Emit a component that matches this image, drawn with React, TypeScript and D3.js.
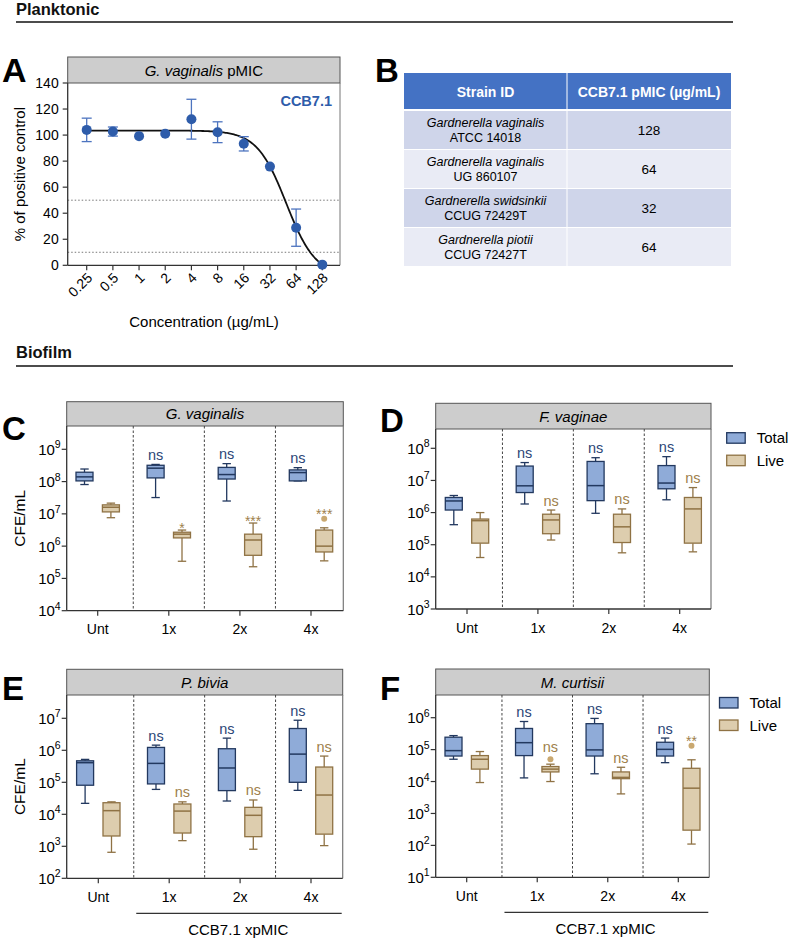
import React from 'react';
import * as d3 from 'd3';

const FONT = "'Liberation Sans', Arial, Helvetica, sans-serif";

// ---------- Panel A data ----------
const concLabels = ['0.25', '0.5', '1', '2', '4', '8', '16', '32', '64', '128'];
const concValues = [0.25, 0.5, 1, 2, 4, 8, 16, 32, 64, 128];
const pctMean = [104, 102.7, 99.2, 101, 112.2, 102.2, 93.3, 75.8, 28.9, 0.5];
const pctSD = [9, 3.5, 1, 1, 15.3, 8, 5.5, 1, 14.3, 0];
const yTicksA = [0, 20, 40, 60, 80, 100, 120, 140];
const refLinesA = [50, 10];
// fitted 4-parameter logistic curve parameters
const fitTop = 103.5;
const fitBottom = -8;
const fitIC50 = 49.2;
const fitHill = 2.59;

// ---------- Panel B data ----------
const tableHeaders = ['Strain ID', 'CCB7.1 pMIC (µg/mL)'];
const strainSpecies = ['Gardnerella vaginalis', 'Gardnerella vaginalis', 'Gardnerella swidsinkii', 'Gardnerella piotii'];
const strainIds = ['ATCC 14018', 'UG 860107', 'CCUG 72429T', 'CCUG 72427T'];
const strainPMIC = ['128', '64', '32', '64'];

// ---------- Biofilm data: [whiskerLow, Q1, median, Q3, whiskerHigh] ----------
const groups = ['Unt', '1x', '2x', '4x'];

const cTotal = [
  [8.1e7, 1.05e8, 1.4e8, 1.95e8, 2.45e8],
  [3.2e7, 1.3e8, 2.6e8, 3.2e8, 3.4e8],
  [2.5e7, 1.2e8, 1.65e8, 2.75e8, 3.6e8],
  [1.05e8, 1.05e8, 1.9e8, 2.3e8, 2.7e8],
];
const cLive = [
  [7.6e6, 1.15e7, 1.6e7, 1.9e7, 2.15e7],
  [3.4e5, 1.8e6, 2.35e6, 2.7e6, 3.15e6],
  [2.3e5, 5.2e5, 1.55e6, 2.35e6, 5.2e6],
  [3.5e5, 6.6e5, 1.0e6, 3.15e6, 3.7e6],
];
const cLiveOutliers = [null, null, null, 7.1e6];
const cTotalSig = ['', 'ns', 'ns', 'ns'];
const cLiveSig = ['', '*', '***', '***'];
const cTicks = [1e4, 1e5, 1e6, 1e7, 1e8, 1e9];

const dTotal = [
  [4.2e5, 1.2e6, 2.3e6, 2.95e6, 3.4e6],
  [1.85e6, 4.2e6, 6.8e6, 2.8e7, 3.6e7],
  [9.5e5, 2.35e6, 6.9e6, 3.9e7, 5.1e7],
  [2.5e6, 5.5e6, 8.3e6, 2.9e7, 5.5e7],
];
const dLive = [
  [4.0e4, 1.12e5, 5.6e5, 6.3e5, 1.0e6],
  [1.4e5, 2.2e5, 5.9e5, 8.9e5, 1.2e6],
  [5.6e4, 1.17e5, 3.6e5, 8.9e5, 1.3e6],
  [6.0e4, 1.12e5, 1.3e6, 2.95e6, 6.0e6],
];
const dLiveOutliers = [null, null, null, null];
const dTotalSig = ['', 'ns', 'ns', 'ns'];
const dLiveSig = ['', 'ns', 'ns', 'ns'];
const dTicks = [1e3, 1e4, 1e5, 1e6, 1e7, 1e8];

const eTotal = [
  [2.2e4, 8.1e4, 4.1e5, 4.7e5, 5.2e5],
  [6.0e4, 8.9e4, 3.9e5, 1.23e6, 1.45e6],
  [2.6e4, 5.5e4, 2.8e5, 1.12e6, 2.4e6],
  [5.6e4, 1.0e5, 7.6e5, 4.8e6, 8.7e6],
];
const eLive = [
  [650, 2.1e3, 1.3e4, 2.3e4, 2.45e4],
  [1.5e3, 2.6e3, 1.26e4, 2.1e4, 2.45e4],
  [810, 2.0e3, 9.3e3, 1.65e4, 2.8e4],
  [1.05e3, 2.4e3, 4.0e4, 3.0e5, 6.6e5],
];
const eLiveOutliers = [null, null, null, null];
const eTotalSig = ['', 'ns', 'ns', 'ns'];
const eLiveSig = ['', 'ns', 'ns', 'ns'];
const eTicks = [1e2, 1e3, 1e4, 1e5, 1e6, 1e7];

const fTotal = [
  [5.0e4, 6.3e4, 9.3e4, 2.45e5, 2.75e5],
  [1.3e4, 6.5e4, 1.65e5, 4.6e5, 7.6e5],
  [1.75e4, 6.3e4, 9.8e4, 6.5e5, 9.5e5],
  [3.9e4, 6.3e4, 1.02e5, 1.7e5, 2.3e5],
];
const fLive = [
  [9.3e3, 2.45e4, 5.0e4, 6.5e4, 8.7e4],
  [1.0e4, 2.0e4, 2.45e4, 2.95e4, 3.5e4],
  [4.1e3, 1.23e4, 1.35e4, 2.0e4, 2.8e4],
  [110, 300, 6.2e3, 2.6e4, 4.8e4],
];
const fLiveOutliers = [null, 5.0e4, null, 1.32e5];
const fTotalSig = ['', 'ns', 'ns', 'ns'];
const fLiveSig = ['', 'ns', 'ns', '**'];
const fTicks = [1e1, 1e2, 1e3, 1e4, 1e5, 1e6];

const legendLabels = ['Total', 'Live'];
const bracketLabel = 'CCB7.1 xpMIC';

// ---------- styles ----------
const TOTAL_FILL = '#8fabd8';
const TOTAL_STROKE = '#22385f';
const LIVE_FILL = '#ddcdae';
const LIVE_STROKE = '#8f7244';
const TOTAL_TXT = '#2c4677';
const LIVE_TXT = '#9e7f4c';
const HEADER_FILL = '#cdcdcd';

function sup(t: number) {
  return String(Math.round(Math.log10(t)));
}

function PanelA() {
  const left = 67.7, right = 340, headerTop = 57, plotTop = 83, axisY = 265.3;
  const x = d3.scaleLog().base(2).domain([0.25, 128]).range([86.7, 322.3]);
  const y = d3.scaleLinear().domain([0, 140]).range([axisY, plotTop]);
  const curveX = d3.range(0, 201).map((i) => 0.25 * Math.pow(512, i / 200));
  const fit = (c: number) => fitBottom + (fitTop - fitBottom) / (1 + Math.pow(c / fitIC50, fitHill));
  const line = d3.line<number>().x((c) => x(c)).y((c) => y(Math.max(0, fit(c)))).curve(d3.curveLinear);
  return (
    <g>
      <text x={2} y={82} fontSize={34} fontWeight="bold" fontFamily={FONT}>A</text>
      <rect x={left} y={headerTop} width={right - left} height={plotTop - headerTop} fill={HEADER_FILL} stroke="#555" strokeWidth={1} />
      <text x={(left + right) / 2} y={75.5} textAnchor="middle" fontSize={15} fontFamily={FONT}>
        <tspan fontStyle="italic">G. vaginalis</tspan><tspan> pMIC</tspan>
      </text>
      <line x1={right} x2={right} y1={plotTop} y2={axisY} stroke="#777" strokeWidth={1} />
      {refLinesA.map((v) => (
        <line key={v} x1={left} x2={right} y1={y(v)} y2={y(v)} stroke="#555" strokeWidth={0.8} strokeDasharray="1.5,2" />
      ))}
      <line x1={left} x2={left} y1={plotTop} y2={axisY} stroke="#333" strokeWidth={1.3} />
      <line x1={left} x2={right} y1={axisY} y2={axisY} stroke="#333" strokeWidth={1.3} />
      {yTicksA.map((t) => (
        <g key={t}>
          <line x1={left - 5} x2={left} y1={y(t)} y2={y(t)} stroke="#333" strokeWidth={1.2} />
          <text x={left - 9} y={y(t) + 5} textAnchor="end" fontSize={14} fontFamily={FONT}>{t}</text>
        </g>
      ))}
      {concValues.map((c, i) => (
        <g key={i}>
          <line x1={x(c)} x2={x(c)} y1={axisY} y2={axisY + 5} stroke="#333" strokeWidth={1.2} />
          <text transform={`translate(${x(c) + 3},${axisY + 10}) rotate(-45)`} textAnchor="end" dy="0.35em" fontSize={14} fontFamily={FONT}>{concLabels[i]}</text>
        </g>
      ))}
      <text transform={`translate(25,${(plotTop + axisY) / 2}) rotate(-90)`} textAnchor="middle" fontSize={15} fontFamily={FONT}>% of positive control</text>
      <text x={204} y={327} textAnchor="middle" fontSize={15} fontFamily={FONT}>Concentration (µg/mL)</text>
      <path d={line(curveX) || ''} fill="none" stroke="#111" strokeWidth={1.8} />
      {concValues.map((c, i) => (
        <g key={'e' + i}>
          {pctSD[i] > 1.5 && (
            <g stroke="#4d74bf" strokeWidth={1.3}>
              <line x1={x(c)} x2={x(c)} y1={y(pctMean[i] + pctSD[i])} y2={y(pctMean[i] - pctSD[i])} />
              <line x1={x(c) - 5} x2={x(c) + 5} y1={y(pctMean[i] + pctSD[i])} y2={y(pctMean[i] + pctSD[i])} />
              <line x1={x(c) - 5} x2={x(c) + 5} y1={y(pctMean[i] - pctSD[i])} y2={y(pctMean[i] - pctSD[i])} />
            </g>
          )}
          <circle cx={x(c)} cy={y(pctMean[i])} r={5} fill="#2e5caa" />
        </g>
      ))}
      <text x={332} y={106} textAnchor="end" fontSize={14.5} fontWeight="bold" fill="#2e5caa" fontFamily={FONT}>CCB7.1</text>
    </g>
  );
}

function PanelB() {
  const x0 = 404, x1 = 567, x2 = 731;
  const headTop = 73, headBot = 109;
  const rowTops = [111, 150, 189, 228];
  const rowH = 38;
  const rowFills = ['#cfd5ea', '#e9ebf5', '#cfd5ea', '#e9ebf5'];
  return (
    <g fontFamily={FONT}>
      <text x={375} y={82} fontSize={33} fontWeight="bold">B</text>
      <rect x={x0} y={headTop} width={x2 - x0} height={headBot - headTop} fill="#4472c4" />
      <line x1={x1} x2={x1} y1={headTop} y2={headBot} stroke="#fff" strokeWidth={1} />
      <text x={(x0 + x1) / 2} y={96.5} textAnchor="middle" fill="#fff" fontWeight="bold" fontSize={14}>{tableHeaders[0]}</text>
      <text x={(x1 + x2) / 2} y={96.5} textAnchor="middle" fill="#fff" fontWeight="bold" fontSize={14}>{tableHeaders[1]}</text>
      {rowTops.map((t, i) => (
        <g key={i}>
          <rect x={x0} y={t} width={x2 - x0} height={rowH} fill={rowFills[i]} />
          <line x1={x1} x2={x1} y1={t} y2={t + rowH} stroke="#fff" strokeWidth={1} />
          <text x={(x0 + x1) / 2} y={t + 16} textAnchor="middle" fontSize={12.5} fontStyle="italic">{strainSpecies[i]}</text>
          <text x={(x0 + x1) / 2} y={t + 31} textAnchor="middle" fontSize={12.5}>{strainIds[i]}</text>
          <text x={(x1 + x2) / 2} y={t + 24} textAnchor="middle" fontSize={13.5}>{strainPMIC[i]}</text>
        </g>
      ))}
    </g>
  );
}

type Layout = {
  letter: string; letterX: number; letterY: number;
  title: string;
  left: number; right: number; headerTop: number; plotTop: number; axisY: number; topTickY: number;
  c0: number; c3: number;
  yLabel: boolean; bracket: boolean;
  legend: null | { x: number; y: number };
};

function BoxPanel({ L, total, live, liveOut, tSig, lSig, ticks }: {
  L: Layout; total: number[][]; live: number[][]; liveOut: (number | null)[]; tSig: string[]; lSig: string[]; ticks: number[];
}) {
  const y = d3.scaleLog().domain([ticks[0], ticks[ticks.length - 1]]).range([L.axisY, L.topTickY]);
  const x = d3.scalePoint().domain(groups).range([L.c0, L.c3]);
  const step = x.step();
  const off = 13.2;
  const bw = 17;
  const cap = 4.2;
  const drawBox = (s: number[], cx: number, fill: string, stroke: string, key: string) => {
    const [lo, q1, med, q3, hi] = s;
    return (
      <g key={key} stroke={stroke} strokeWidth={1.3}>
        <line x1={cx} x2={cx} y1={y(hi)} y2={y(q3)} />
        <line x1={cx} x2={cx} y1={y(q1)} y2={y(lo)} />
        <line x1={cx - cap} x2={cx + cap} y1={y(hi)} y2={y(hi)} />
        <line x1={cx - cap} x2={cx + cap} y1={y(lo)} y2={y(lo)} />
        <rect x={cx - bw / 2} y={y(q3)} width={bw} height={Math.max(1, y(q1) - y(q3))} fill={fill} />
        <line x1={cx - bw / 2} x2={cx + bw / 2} y1={y(med)} y2={y(med)} strokeWidth={1.5} />
      </g>
    );
  };
  const sigText = (txt: string, cx: number, top: number, color: string, key: string) => {
    if (!txt) return null;
    const isStar = txt.includes('*');
    return (
      <text key={key} x={cx} y={isStar ? top + 3 : top - 4.5} textAnchor="middle" fontSize={isStar ? 14 : 14.5} fill={color} fontFamily={FONT}>{txt}</text>
    );
  };
  const midSeps = groups.slice(1).map((g) => (x(g) as number) - step / 2);
  return (
    <g fontFamily={FONT}>
      <text x={L.letterX} y={L.letterY} fontSize={33} fontWeight="bold">{L.letter}</text>
      <rect x={L.left} y={L.headerTop} width={L.right - L.left} height={L.plotTop - L.headerTop} fill={HEADER_FILL} stroke="#555" strokeWidth={1} />
      <text x={(L.left + L.right) / 2} y={(L.headerTop + L.plotTop) / 2 + 5.5} textAnchor="middle" fontSize={15} fontStyle="italic">{L.title}</text>
      <line x1={L.right} x2={L.right} y1={L.plotTop} y2={L.axisY} stroke="#777" strokeWidth={1.2} />
      {midSeps.map((sx, i) => (
        <line key={i} x1={sx} x2={sx} y1={L.plotTop} y2={L.axisY} stroke="#444" strokeWidth={1} strokeDasharray="2.5,2" />
      ))}
      <line x1={L.left} x2={L.left} y1={L.plotTop} y2={L.axisY} stroke="#333" strokeWidth={1.3} />
      <line x1={L.left} x2={L.right} y1={L.axisY} y2={L.axisY} stroke="#333" strokeWidth={1.3} />
      {ticks.map((t) => (
        <g key={t}>
          <line x1={L.left - 5} x2={L.left} y1={y(t)} y2={y(t)} stroke="#333" strokeWidth={1.2} />
          <text x={L.left - 6} y={y(t) + 5.5} textAnchor="end" fontSize={15}>
            <tspan>10</tspan><tspan dy={-6.5} fontSize={10.5}>{sup(t)}</tspan>
          </text>
        </g>
      ))}
      {groups.map((g) => (
        <g key={g}>
          <line x1={x(g) as number} x2={x(g) as number} y1={L.axisY} y2={L.axisY + 5} stroke="#333" strokeWidth={1.2} />
          <text x={x(g) as number} y={L.axisY + 23.5} textAnchor="middle" fontSize={14}>{g}</text>
        </g>
      ))}
      {L.yLabel && (
        <text transform={`translate(25,${(L.plotTop + L.axisY) / 2}) rotate(-90)`} textAnchor="middle" fontSize={15.5}>CFE/mL</text>
      )}
      {groups.map((g, i) => {
        const cx = x(g) as number;
        const tTop = y(total[i][4]);
        const lTopVal = liveOut[i] != null ? Math.max(liveOut[i] as number, live[i][4]) : live[i][4];
        const lTop = y(lTopVal) - (liveOut[i] != null ? 3 : 0);
        return (
          <g key={'b' + g}>
            {drawBox(total[i], cx - off, TOTAL_FILL, TOTAL_STROKE, 't' + g)}
            {drawBox(live[i], cx + off, LIVE_FILL, LIVE_STROKE, 'l' + g)}
            {liveOut[i] != null && (
              <circle cx={cx + off} cy={y(liveOut[i] as number)} r={3} fill="#c9a870" />
            )}
            {sigText(tSig[i], cx - off, tTop, TOTAL_TXT, 'st' + g)}
            {sigText(lSig[i], cx + off, lTop, LIVE_TXT, 'sl' + g)}
          </g>
        );
      })}
      {L.bracket && (
        <g>
          <line x1={midSeps[0] + 2.5} x2={L.right - 1} y1={L.axisY + 35} y2={L.axisY + 35} stroke="#333" strokeWidth={1.2} />
          <text x={(midSeps[0] + L.right) / 2} y={L.axisY + 57} textAnchor="middle" fontSize={15}>{bracketLabel}</text>
        </g>
      )}
      {L.legend && (
        <g>
          {legendLabels.map((lab, i) => (
            <g key={lab}>
              <rect x={L.legend!.x} y={L.legend!.y + i * 22.5} width={18.5} height={10.5}
                fill={i === 0 ? TOTAL_FILL : LIVE_FILL} stroke={i === 0 ? TOTAL_STROKE : LIVE_STROKE} strokeWidth={1.3} />
              <text x={L.legend!.x + 30} y={L.legend!.y + i * 22.5 + 10.5} fontSize={15}>{lab}</text>
            </g>
          ))}
        </g>
      )}
    </g>
  );
}

const layoutC: Layout = {
  letter: 'C', letterX: 2, letterY: 440, title: 'G. vaginalis',
  left: 66.7, right: 343.3, headerTop: 401.7, plotTop: 426, axisY: 610.7, topTickY: 449.3,
  c0: 97.7, c3: 311, yLabel: true, bracket: false, legend: null,
};
const layoutD: Layout = {
  letter: 'D', letterX: 380, letterY: 432, title: 'F. vaginae',
  left: 435.7, right: 711, headerTop: 403.3, plotTop: 429, axisY: 609, topTickY: 448.3,
  c0: 467, c3: 679.7, yLabel: false, bracket: false, legend: { x: 726.7, y: 432.7 },
};
const layoutE: Layout = {
  letter: 'E', letterX: 2, letterY: 700, title: 'P. bivia',
  left: 66.7, right: 342.7, headerTop: 669.3, plotTop: 695, axisY: 878.3, topTickY: 718.3,
  c0: 98.3, c3: 311, yLabel: true, bracket: true, legend: null,
};
const layoutF: Layout = {
  letter: 'F', letterX: 380, letterY: 700, title: 'M. curtisii',
  left: 435.7, right: 709.3, headerTop: 669, plotTop: 695, axisY: 877.3, topTickY: 717.7,
  c0: 466.7, c3: 678.3, yLabel: false, bracket: true, legend: { x: 719.5, y: 697.5 },
};

export default function App() {
  return (
    <svg width={790} height={940} viewBox="0 0 790 940"
      style={{ position: 'absolute', left: 0, top: 0, background: '#fff' }}
      fontFamily={FONT}>
      <rect x={0} y={0} width={790} height={940} fill="#fff" />
      <text x={16} y={14.5} fontSize={16.5} fontWeight="bold" fill="#111">Planktonic</text>
      <line x1={16} x2={733} y1={22} y2={22} stroke="#111" strokeWidth={1.5} />
      <text x={16} y={358} fontSize={16.5} fontWeight="bold" fill="#111">Biofilm</text>
      <line x1={16} x2={733} y1={366} y2={366} stroke="#111" strokeWidth={1.5} />
      <PanelA />
      <PanelB />
      <BoxPanel L={layoutC} total={cTotal} live={cLive} liveOut={cLiveOutliers} tSig={cTotalSig} lSig={cLiveSig} ticks={cTicks} />
      <BoxPanel L={layoutD} total={dTotal} live={dLive} liveOut={dLiveOutliers} tSig={dTotalSig} lSig={dLiveSig} ticks={dTicks} />
      <BoxPanel L={layoutE} total={eTotal} live={eLive} liveOut={eLiveOutliers} tSig={eTotalSig} lSig={eLiveSig} ticks={eTicks} />
      <BoxPanel L={layoutF} total={fTotal} live={fLive} liveOut={fLiveOutliers} tSig={fTotalSig} lSig={fLiveSig} ticks={fTicks} />
    </svg>
  );
}
